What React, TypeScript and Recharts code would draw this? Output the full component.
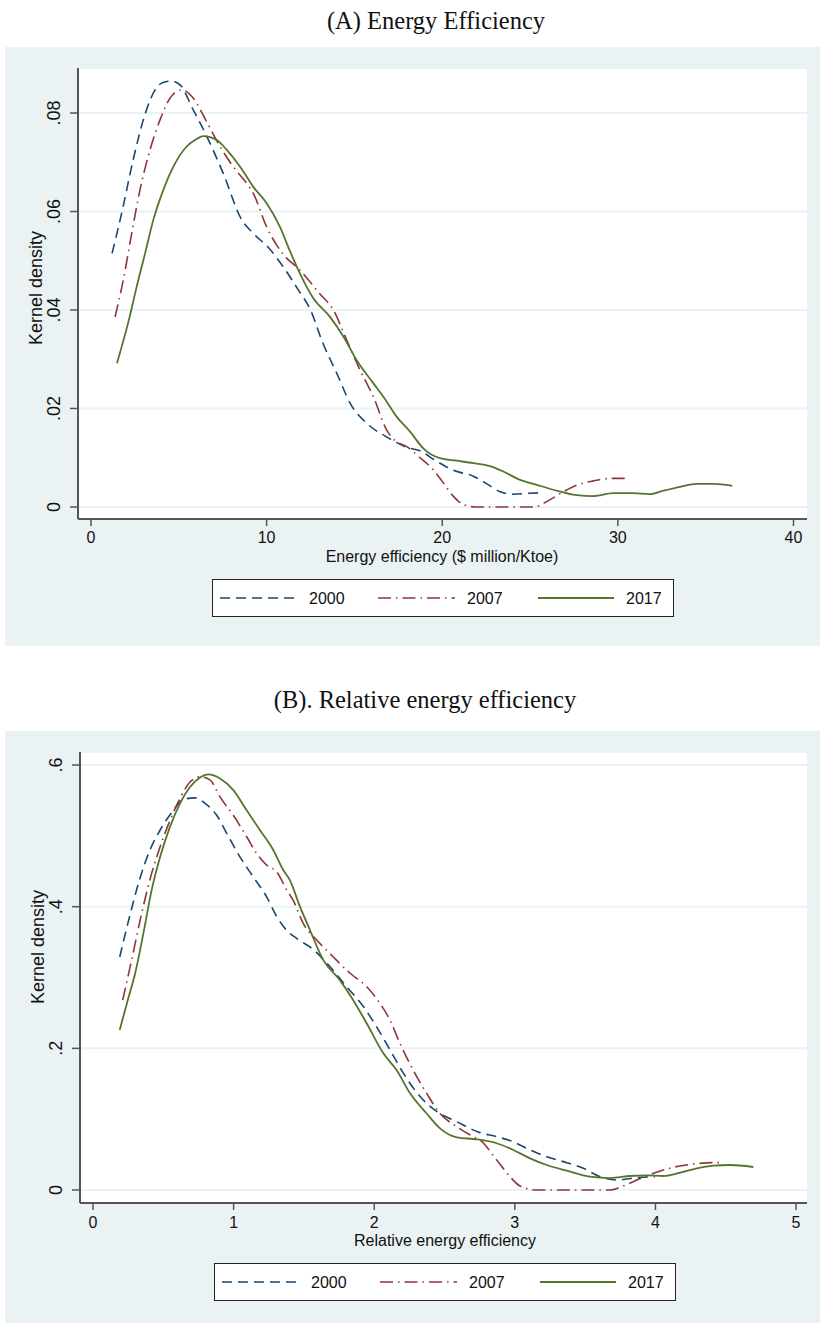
import { CartesianGrid, Legend, Line, LineChart, XAxis, YAxis } from "recharts";

const NAVY = "#1a476f";
const MAROON = "#90353b";
const FOREST = "#55752f";
const BG = "#eaf2f3";
const INK = "#111";
const AXIS = "#555";
const SANS = "'Liberation Sans', Arial, sans-serif";
const SERIF = "'Liberation Serif', 'Times New Roman', serif";

const years = ["2000", "2007", "2017"];

// panel A: energy efficiency ($ million/Ktoe) vs kernel density
const eeXTicks = [0, 10, 20, 30, 40];
const eeYTicks = [0, 0.02, 0.04, 0.06, 0.08];
const ee2000: [number, number][] = [
  [1.2, 0.0515], [1.8, 0.0605], [2.4, 0.0705], [3.1, 0.08], [3.65, 0.0847], [4.1, 0.0862],
  [4.6, 0.0865], [5.1, 0.0856], [5.8, 0.0808], [6.6, 0.0752], [7.5, 0.068], [8.6, 0.0582],
  [9.2, 0.0557], [10.2, 0.0523], [10.8, 0.0495], [11.8, 0.0441], [12.5, 0.04], [13.2, 0.0333],
  [14.0, 0.0271], [14.8, 0.0208], [15.7, 0.017], [16.8, 0.0143], [18.0, 0.0121], [18.8, 0.0113],
  [19.5, 0.0097], [20.6, 0.0075], [21.8, 0.0062], [22.5, 0.0048], [23.3, 0.0031], [24.0, 0.0026],
  [25.0, 0.0028], [25.8, 0.0029],
];
const ee2007: [number, number][] = [
  [1.37, 0.0386], [1.84, 0.0461], [2.32, 0.0556], [2.79, 0.0644], [3.36, 0.0725], [3.93, 0.0786],
  [4.5, 0.083], [5.16, 0.0847], [5.83, 0.083], [6.59, 0.0782], [7.35, 0.0732], [8.1, 0.0691],
  [8.87, 0.0657], [9.24, 0.0637], [10.0, 0.0569], [10.9, 0.0515], [11.9, 0.0481], [13.0, 0.0434],
  [13.8, 0.04], [14.56, 0.0339], [15.32, 0.0278], [16.08, 0.0224], [16.84, 0.0156], [17.3, 0.0135],
  [18.0, 0.0122], [18.7, 0.0101], [19.5, 0.0075], [20.0, 0.0052], [20.6, 0.0023], [21.2, 0.0005],
  [21.9, 0], [23.5, 0], [25.2, 0], [26.1, 0.0014], [26.9, 0.0031], [27.7, 0.0045], [28.6, 0.0053],
  [29.6, 0.0058], [30.6, 0.0058],
];
const ee2017: [number, number][] = [
  [1.48, 0.0292], [2.18, 0.0383], [2.6, 0.0447], [3.08, 0.0515], [3.55, 0.0583], [4.12, 0.0644],
  [4.69, 0.0691], [5.45, 0.0732], [5.92, 0.0745], [6.4, 0.0753], [7.16, 0.0745], [7.73, 0.0725],
  [8.49, 0.0691], [9.24, 0.065], [10.0, 0.0617], [10.76, 0.0569], [11.3, 0.0522], [11.9, 0.0474],
  [12.66, 0.0424], [13.61, 0.0386], [14.37, 0.0346], [15.13, 0.0298], [16.08, 0.0251],
  [16.65, 0.0224], [17.41, 0.0183], [18.17, 0.0153], [18.92, 0.0119], [19.87, 0.0099],
  [20.82, 0.0094], [21.77, 0.0089], [22.72, 0.0083], [23.48, 0.0072], [24.43, 0.0055],
  [25.38, 0.0045], [26.33, 0.0035], [27.66, 0.0024], [28.6, 0.0022], [29.74, 0.0028],
  [30.88, 0.0028], [31.83, 0.0026], [32.59, 0.0033], [33.54, 0.0041], [34.49, 0.0047],
  [35.44, 0.0047], [36.52, 0.0043],
];

// panel B: relative energy efficiency vs kernel density
const reeXTicks = [0, 1, 2, 3, 4, 5];
const reeYTicks = [0, 0.2, 0.4, 0.6];
const ree2000: [number, number][] = [
  [0.19, 0.329], [0.26, 0.386], [0.33, 0.4375], [0.405, 0.48], [0.477, 0.508], [0.571, 0.536],
  [0.642, 0.5514], [0.725, 0.5537], [0.797, 0.5458], [0.88, 0.529], [0.951, 0.5035], [1.046, 0.47],
  [1.14, 0.442], [1.235, 0.414], [1.307, 0.386], [1.38, 0.366], [1.45, 0.355], [1.57, 0.339],
  [1.686, 0.315], [1.804, 0.287], [1.923, 0.259], [2.018, 0.23], [2.112, 0.198], [2.207, 0.165],
  [2.326, 0.132], [2.444, 0.111], [2.587, 0.0964], [2.752, 0.081], [2.871, 0.0753], [2.99, 0.068],
  [3.108, 0.0565], [3.227, 0.047], [3.369, 0.0386], [3.487, 0.0306], [3.606, 0.0188],
  [3.725, 0.0141], [3.867, 0.0174], [3.997, 0.0188],
];
const ree2007: [number, number][] = [
  [0.211, 0.268], [0.275, 0.325], [0.346, 0.3906], [0.417, 0.447], [0.477, 0.4845], [0.548, 0.522],
  [0.619, 0.553], [0.69, 0.576], [0.761, 0.5834], [0.832, 0.579], [0.903, 0.555], [0.998, 0.529],
  [1.093, 0.4987], [1.164, 0.475], [1.235, 0.4587], [1.307, 0.449], [1.378, 0.4234],
  [1.424, 0.409], [1.496, 0.376], [1.591, 0.353], [1.709, 0.329], [1.828, 0.306], [1.947, 0.287],
  [2.041, 0.2635], [2.112, 0.24], [2.183, 0.207], [2.278, 0.169], [2.373, 0.1365], [2.468, 0.108],
  [2.587, 0.0894], [2.705, 0.0753], [2.752, 0.0706], [2.871, 0.0423], [2.966, 0.0188],
  [3.037, 0.0056], [3.156, 0], [3.4, 0], [3.677, 0], [3.748, 0.0038], [3.867, 0.0141],
  [3.985, 0.0235], [4.127, 0.032], [4.27, 0.0367], [4.412, 0.0386], [4.46, 0.0386],
];
const ree2017: [number, number][] = [
  [0.19, 0.226], [0.247, 0.268], [0.3, 0.306], [0.358, 0.362], [0.417, 0.4234], [0.477, 0.47],
  [0.548, 0.513], [0.619, 0.546], [0.69, 0.569], [0.761, 0.5825], [0.82, 0.5867], [0.903, 0.581],
  [0.998, 0.5646], [1.093, 0.536], [1.188, 0.508], [1.282, 0.48], [1.353, 0.4517], [1.4, 0.4375],
  [1.472, 0.4], [1.543, 0.367], [1.638, 0.3246], [1.757, 0.296], [1.851, 0.268], [1.947, 0.235],
  [2.065, 0.193], [2.16, 0.169], [2.255, 0.1365], [2.373, 0.108], [2.468, 0.087], [2.587, 0.0744],
  [2.729, 0.0716], [2.871, 0.066], [2.99, 0.0565], [3.108, 0.0447], [3.227, 0.0353],
  [3.369, 0.0273], [3.535, 0.0188], [3.677, 0.0169], [3.82, 0.0198], [3.938, 0.0207],
  [4.056, 0.0198], [4.175, 0.0245], [4.294, 0.0306], [4.412, 0.0343], [4.53, 0.0353],
  [4.696, 0.0325],
];

const lineStyle: Record<string, { stroke: string; dash?: string; width: number }> = {
  "2000": { stroke: NAVY, dash: "10 6", width: 1.6 },
  "2007": { stroke: MAROON, dash: "13 5 1.5 5", width: 1.6 },
  "2017": { stroke: FOREST, width: 1.8 },
};

const toPoints = (pairs: [number, number][]) => pairs.map(([x, y]) => ({ x, y }));

const fmtDensity = (v: number, digits: number) => (v === 0 ? "0" : v.toFixed(digits).replace(/^0/, ""));

function LegendBox() {
  // sample line x-ranges inside the 462px box
  const slots = [
    { x1: 8, x2: 86, tx: 97 },
    { x1: 166, x2: 243, tx: 255 },
    { x1: 326, x2: 402, tx: 414 },
  ];
  return (
    <svg width={462} height={38} style={{ display: "block" }}>
      <rect x={0.5} y={0.5} width={461} height={37} fill="#fff" stroke="#222" strokeWidth={1} />
      {years.map((yr, i) => (
        <g key={yr}>
          <line
            x1={slots[i].x1}
            x2={slots[i].x2}
            y1={19}
            y2={19}
            stroke={lineStyle[yr].stroke}
            strokeWidth={lineStyle[yr].width}
            strokeDasharray={lineStyle[yr].dash}
          />
          <text x={slots[i].tx} y={19} dy="0.36em" fontSize={16} fontFamily={SANS} fill={INK}>
            {yr}
          </text>
        </g>
      ))}
    </svg>
  );
}

type PanelProps = {
  title: string;
  titleX: number;
  titleTop: number;
  top: number;
  height: number;
  axisLeft: number;
  xDomain: [number, number];
  yDomain: [number, number];
  xTicks: number[];
  yTicks: number[];
  digits: number;
  xLabel: string;
  xLabelX: number;
  yLabelY: number;
  tickMargin: number;
  series: [number, number][][];
};

function Panel(p: PanelProps) {
  const plotTop = 21;
  const plotHeight = 451;
  const xAxisHeight = 40;
  const bottom = p.height - plotTop - plotHeight - xAxisHeight;
  const yAxisWidth = 60;

  const YTick = ({ x, y, payload }: any) => {
    const cx = x - 10;
    return (
      <text
        x={cx}
        y={y}
        transform={`rotate(-90 ${cx} ${y})`}
        textAnchor="middle"
        fontSize={18}
        fontFamily={SANS}
        fill={INK}
      >
        {fmtDensity(payload.value, p.digits)}
      </text>
    );
  };

  const XTick = ({ x, y, payload }: any) => (
    <text x={x} y={y} dy="0.71em" textAnchor="middle" fontSize={16} fontFamily={SANS} fill={INK}>
      {payload.value}
    </text>
  );

  return (
    <>
      <div
        style={{
          position: "absolute",
          left: 0,
          width: 874,
          top: p.titleTop,
          textAlign: "center",
          fontFamily: SERIF,
          fontSize: 24.5,
          lineHeight: 1,
          color: INK,
          whiteSpace: "nowrap",
          transform: `translateX(${p.titleX - 437}px)`,
        }}
      >
        {p.title}
      </div>
      <div style={{ position: "absolute", left: 5, top: p.top, width: 815, height: p.height, background: BG }} />
      <div style={{ position: "absolute", left: 0, top: p.top }}>
        <LineChart
          width={820}
          height={p.height}
          margin={{ top: plotTop, right: 13, left: p.axisLeft - yAxisWidth, bottom }}
        >
          <CartesianGrid vertical={false} horizontal fill="#fff" stroke={BG} strokeWidth={2} />
          <XAxis
            type="number"
            dataKey="x"
            domain={p.xDomain}
            ticks={p.xTicks}
            allowDataOverflow
            height={xAxisHeight}
            tickSize={7}
            tickMargin={p.tickMargin}
            tick={<XTick />}
            axisLine={{ stroke: AXIS, strokeWidth: 2 }}
            tickLine={{ stroke: AXIS, strokeWidth: 1.5 }}
            label={{
              content: () => (
                <text x={p.xLabelX} y={515} textAnchor="middle" fontSize={16} fontFamily={SANS} fill={INK}>
                  {p.xLabel}
                </text>
              ),
            }}
          />
          <YAxis
            type="number"
            domain={p.yDomain}
            ticks={p.yTicks}
            allowDataOverflow
            width={yAxisWidth}
            tickSize={8}
            tickMargin={0}
            tick={<YTick />}
            axisLine={{ stroke: AXIS, strokeWidth: 2 }}
            tickLine={{ stroke: AXIS, strokeWidth: 1.5 }}
            label={{
              content: () => {
                const cx = p.axisLeft - 36;
                const cy = p.yLabelY - p.top;
                return (
                  <text
                    x={cx}
                    y={cy}
                    transform={`rotate(-90 ${cx} ${cy})`}
                    textAnchor="middle"
                    fontSize={18}
                    fontFamily={SANS}
                    fill={INK}
                  >
                    Kernel density
                  </text>
                );
              },
            }}
          />
          {years.map((yr, i) => (
            <Line
              key={yr}
              name={yr}
              data={toPoints(p.series[i])}
              dataKey="y"
              type="monotone"
              stroke={lineStyle[yr].stroke}
              strokeWidth={lineStyle[yr].width}
              strokeDasharray={lineStyle[yr].dash}
              dot={false}
              activeDot={false}
              isAnimationActive={false}
            />
          ))}
          <Legend
            layout="horizontal"
            verticalAlign="middle"
            align="center"
            width={462}
            height={38}
            wrapperStyle={{ left: p.axisLeft + 134, top: 532, width: 462, height: 38 }}
            content={() => <LegendBox />}
          />
        </LineChart>
      </div>
    </>
  );
}

export default function App() {
  return (
    <div style={{ position: "absolute", left: 0, top: 0, width: 820, height: 1323, background: "#fff" }}>
      <Panel
        title="(A) Energy Efficiency"
        titleX={436}
        titleTop={8.5}
        top={47}
        height={599}
        axisLeft={78}
        xDomain={[-0.74, 40.77]}
        yDomain={[-0.00244, 0.08914]}
        xTicks={eeXTicks}
        yTicks={eeYTicks}
        digits={2}
        xLabel="Energy efficiency ($ million/Ktoe)"
        xLabelX={442}
        yLabelY={288}
        tickMargin={6}
        series={[ee2000, ee2007, ee2017]}
      />
      <Panel
        title="(B). Relative energy efficiency"
        titleX={425}
        titleTop={687.5}
        top={731}
        height={592}
        axisLeft={80}
        xDomain={[-0.0925, 5.078]}
        yDomain={[-0.01835, 0.6184]}
        xTicks={reeXTicks}
        yTicks={reeYTicks}
        digits={1}
        xLabel="Relative energy efficiency"
        xLabelX={445}
        yLabelY={947}
        tickMargin={7}
        series={[ree2000, ree2007, ree2017]}
      />
    </div>
  );
}
